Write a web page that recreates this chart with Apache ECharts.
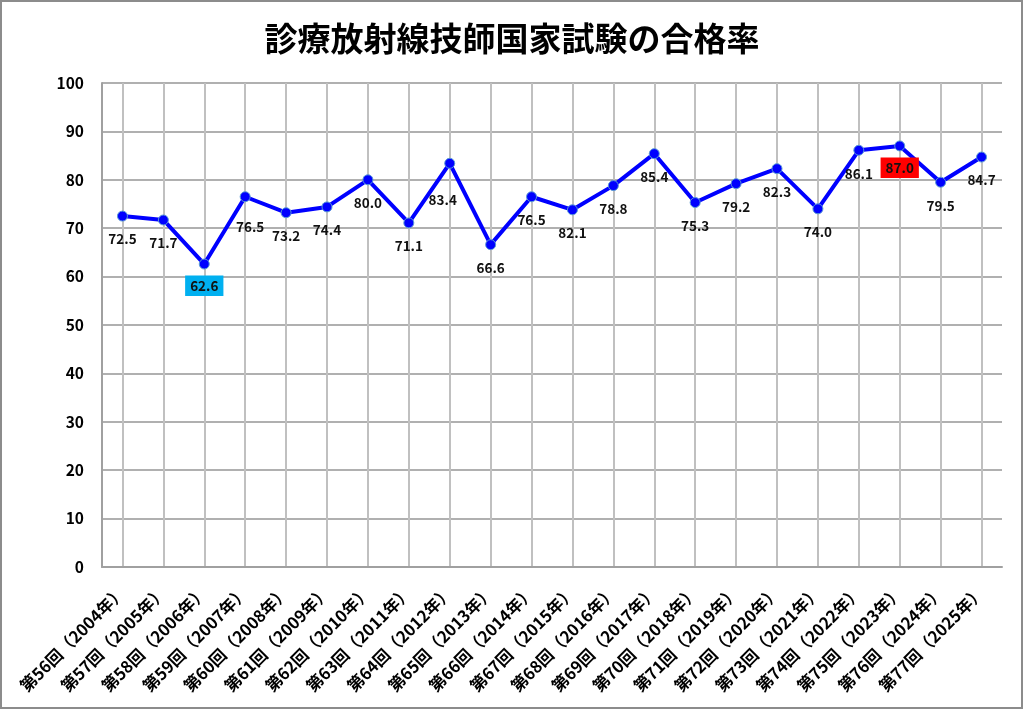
<!DOCTYPE html>
<html>
<head>
<meta charset="utf-8">
<script src="https://cdn.jsdelivr.net/npm/echarts@6/dist/echarts.min.js"></script>
<style>
html,body{margin:0;padding:0;background:#fff;}
#c{width:1024px;height:712px;}
</style>
</head>
<body>
<div id="c"></div>
<script>
const titleText = '診療放射線技師国家試験の合格率';
const categories = ['第56回（2004年）','第57回（2005年）','第58回（2006年）','第59回（2007年）','第60回（2008年）','第61回（2009年）','第62回（2010年）','第63回（2011年）','第64回（2012年）','第65回（2013年）','第66回（2014年）','第67回（2015年）','第68回（2016年）','第69回（2017年）','第70回（2018年）','第71回（2019年）','第72回（2020年）','第73回（2021年）','第74回（2022年）','第75回（2023年）','第76回（2024年）','第77回（2025年）'];
const passRates = [72.5,71.7,62.6,76.5,73.2,74.4,80.0,71.1,83.4,66.6,76.5,73.8,78.8,85.4,75.3,79.2,82.3,74.0,86.1,87.0,79.5,84.7];
const labelTexts = ['72.5','71.7','62.6','76.5','73.2','74.4','80.0','71.1','83.4','66.6','76.5','82.1','78.8','85.4','75.3','79.2','82.3','74.0','86.1','87.0','79.5','84.7'];
const yTicks = [0,10,20,30,40,50,60,70,80,90,100];

// style-only: label offsets [dx, dy] and highlighted label boxes
const labelOffsets = {3:[5,7], 8:[-7,13]};
const highlight = {2:'#00B0F0', 19:'#FF0000'};

const FONT = '"Noto Sans CJK JP", "Noto Sans", sans-serif';

const seriesData = passRates.map((v, i) => {
  const off = labelOffsets[i] || [0,0];
  const lbl = {
    show: true,
    position: 'bottom',
    distance: 11,
    offset: off,
    formatter: () => labelTexts[i],
    color: '#111',
    fontFamily: FONT,
    fontWeight: 'bold',
    fontSize: 13.5
  };
  if (highlight[i]) {
    lbl.backgroundColor = highlight[i];
    lbl.padding = [4, 5, 3, 5];
    lbl.distance = 6;
  }
  return { value: v, label: lbl };
});

const chart = echarts.init(document.getElementById('c'));
chart.setOption({
  backgroundColor: '#ffffff',
  animation: false,
  title: {
    text: titleText,
    left: 'center',
    top: 17,
    textStyle: { fontFamily: FONT, fontWeight: 'bold', fontSize: 33, color: '#000' }
  },
  graphic: [{
    type: 'rect',
    shape: { x: 1, y: 1, width: 1021, height: 707 },
    style: { fill: 'none', stroke: '#8c8c8c', lineWidth: 2 },
    silent: true
  }],
  grid: { left: 102, right: 22, top: 83, bottom: 145, containLabel: false },
  xAxis: {
    type: 'category',
    data: categories,
    boundaryGap: true,
    axisLine: { show: true, lineStyle: { color: '#a0a0a0', width: 2 } },
    axisTick: { show: false, alignWithLabel: true },
    splitLine: { show: true, alignWithLabel: true, lineStyle: { color: '#c0c0c0', width: 2 } },
    axisLabel: {
      interval: 0,
      rotate: 45,
      margin: 22,
      color: '#000',
      fontFamily: FONT,
      fontWeight: 'bold',
      fontSize: 16.5
    }
  },
  yAxis: {
    type: 'value',
    min: 0,
    max: 100,
    interval: 10,
    axisLine: { show: true, lineStyle: { color: '#a0a0a0', width: 2 } },
    axisTick: { show: false },
    splitLine: { show: true, lineStyle: { color: '#b0b0b0', width: 2 } },
    axisLabel: {
      margin: 18,
      color: '#000',
      fontFamily: FONT,
      fontWeight: 'bold',
      fontSize: 15.5,
      formatter: v => yTicks.includes(v) ? String(v) : ''
    }
  },
  series: [{
    type: 'line',
    data: seriesData,
    symbol: 'circle',
    symbolSize: 10,
    lineStyle: { color: '#0000FF', width: 4 },
    itemStyle: { color: '#0000FF', borderColor: '#5B9BD5', borderWidth: 1 },
    z: 3
  }]
});
</script>
</body>
</html>
